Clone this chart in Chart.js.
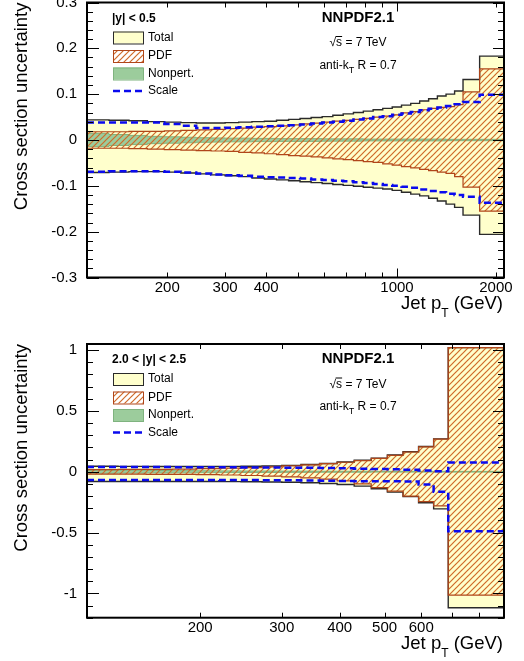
<!DOCTYPE html>
<html><head><meta charset="utf-8">
<script src="https://cdn.jsdelivr.net/npm/chart.js@4.4.1/dist/chart.umd.min.js"></script>
<style>
html,body{margin:0;padding:0;background:#fff;}
#wrap{position:relative;width:524px;height:661px;overflow:hidden;background:#fff;}
canvas{position:absolute;left:0;}
#c1{top:0;} #c2{top:330px;}
</style></head><body>
<div id="wrap"><canvas id="c1" width="524" height="330"></canvas><canvas id="c2" width="524" height="331"></canvas></div>
<script>
// ---------------- DATA: |y| < 0.5 ----------------
const edgesCentral = [114,133,153,174,196,220,245,272,300,330,362,395,430,468,507,548,592,638,686,737,790,846,905,967,1032,1101,1172,1248,1327,1410,1497,1588,1784,2116];
const totalUpCentral   = [0.044,0.043,0.042,0.040,0.039,0.038,0.037,0.037,0.038,0.039,0.040,0.041,0.043,0.045,0.047,0.049,0.051,0.054,0.057,0.060,0.063,0.066,0.069,0.072,0.076,0.080,0.085,0.090,0.096,0.100,0.107,0.132,0.183];
const totalDownCentral = [-0.071,-0.070,-0.069,-0.069,-0.070,-0.072,-0.074,-0.076,-0.078,-0.080,-0.083,-0.085,-0.087,-0.089,-0.091,-0.093,-0.095,-0.097,-0.099,-0.101,-0.103,-0.105,-0.107,-0.110,-0.114,-0.118,-0.122,-0.127,-0.133,-0.140,-0.147,-0.164,-0.206];
const pdfUpCentral     = [0.018,0.018,0.019,0.019,0.020,0.021,0.022,0.023,0.025,0.026,0.028,0.029,0.031,0.033,0.035,0.037,0.039,0.041,0.043,0.045,0.047,0.050,0.052,0.055,0.059,0.062,0.066,0.069,0.071,0.073,0.077,0.105,0.155];
const pdfDownCentral   = [-0.018,-0.018,-0.019,-0.020,-0.021,-0.022,-0.023,-0.024,-0.025,-0.027,-0.028,-0.030,-0.032,-0.034,-0.035,-0.037,-0.039,-0.041,-0.043,-0.045,-0.047,-0.049,-0.052,-0.055,-0.058,-0.061,-0.064,-0.067,-0.070,-0.073,-0.080,-0.103,-0.155];
const npUpCentral      = [0.0145,0.012,0.010,0.008,0.007,0.006,0.005,0.0045,0.004,0.004,0.0035,0.0035,0.003,0.003,0.003,0.003,0.0025,0.0025,0.0025,0.0025,0.002,0.002,0.002,0.002,0.002,0.002,0.002,0.002,0.002,0.0015,0.0015,0.0015,0.0015];
const npDownCentral    = [-0.0145,-0.012,-0.010,-0.008,-0.007,-0.006,-0.005,-0.0045,-0.004,-0.004,-0.0035,-0.0035,-0.003,-0.003,-0.003,-0.003,-0.0025,-0.0025,-0.0025,-0.0025,-0.002,-0.002,-0.002,-0.002,-0.002,-0.002,-0.002,-0.002,-0.002,-0.0015,-0.0015,-0.0015,-0.0015];
const scaleUpCentral   = [0.038,0.038,0.038,0.038,0.035,0.031,0.026,0.026,0.027,0.028,0.029,0.030,0.031,0.032,0.034,0.036,0.038,0.040,0.042,0.045,0.047,0.050,0.052,0.055,0.058,0.061,0.065,0.068,0.071,0.074,0.078,0.083,0.099];
const scaleDownCentral = [-0.069,-0.068,-0.068,-0.068,-0.069,-0.071,-0.073,-0.075,-0.077,-0.078,-0.080,-0.081,-0.082,-0.083,-0.084,-0.086,-0.087,-0.089,-0.090,-0.092,-0.094,-0.096,-0.098,-0.100,-0.102,-0.104,-0.108,-0.111,-0.114,-0.117,-0.120,-0.124,-0.137];
const xTickLabelsCentral = [200,300,400,1000,2000];
const yTickLabelsCentral = [-0.3,-0.2,-0.1,0,0.1,0.2,0.3];

// ---------------- DATA: 2.0 < |y| < 2.5 ----------------
const edgesForward = [114,133,153,174,196,220,245,272,300,330,362,395,430,468,507,548,592,638,686,905];
const totalUpForward   = [0.045,0.044,0.043,0.043,0.043,0.044,0.045,0.047,0.052,0.059,0.068,0.080,0.094,0.112,0.137,0.164,0.207,0.270,1.02];
const totalDownForward = [-0.080,-0.080,-0.080,-0.080,-0.080,-0.081,-0.082,-0.084,-0.087,-0.091,-0.097,-0.105,-0.118,-0.140,-0.168,-0.205,-0.255,-0.305,-1.118];
const pdfUpForward     = [0.018,0.019,0.020,0.022,0.025,0.029,0.034,0.040,0.048,0.056,0.066,0.078,0.092,0.110,0.135,0.162,0.205,0.268,1.02];
const pdfDownForward   = [-0.020,-0.020,-0.021,-0.022,-0.024,-0.027,-0.031,-0.036,-0.042,-0.050,-0.060,-0.075,-0.100,-0.130,-0.160,-0.200,-0.245,-0.280,-1.014];
const npUpForward      = [0.012,0.011,0.010,0.009,0.008,0.007,0.006,0.006,0.005,0.005,0.004,0.004,0.004,0.003,0.003,0.003,0.003,0.003,0.003];
const npDownForward    = [-0.012,-0.011,-0.010,-0.009,-0.008,-0.007,-0.006,-0.006,-0.005,-0.005,-0.004,-0.004,-0.004,-0.003,-0.003,-0.003,-0.003,-0.003,-0.003];
const scaleUpForward   = [0.038,0.038,0.038,0.037,0.036,0.036,0.035,0.034,0.033,0.032,0.030,0.028,0.024,0.022,0.020,0.016,0.010,0.003,0.076];
const scaleDownForward = [-0.068,-0.068,-0.068,-0.068,-0.068,-0.069,-0.069,-0.070,-0.070,-0.072,-0.074,-0.076,-0.078,-0.078,-0.078,-0.080,-0.105,-0.165,-0.489];
const xTickLabelsForward = [200,300,400,500,600];
const yTickLabelsForward = [-1,-0.5,0,0.5,1];

// ---------------- STYLE ----------------
const FONT = "'Liberation Sans', Arial, Helvetica, sans-serif";
const C_TOTAL = '#ffffcc', C_TOTAL_LINE = '#2a2a2a';
const C_PDF_LINE = '#b0461a', C_HATCH = '#cf6a28';
const C_NP = '#9ccc9c', C_NP_LINE = '#7fb37f';
const C_SCALE = '#0a0aee';

function makeHatch(ctx) {
  const t = document.createElement('canvas'); t.width = 6; t.height = 6;
  const g = t.getContext('2d');
  g.strokeStyle = C_HATCH; g.lineWidth = 1.2;
  g.beginPath(); g.moveTo(-1, 7); g.lineTo(7, -1); g.stroke();
  g.beginPath(); g.moveTo(-1, 1); g.lineTo(1, -1); g.stroke();
  g.beginPath(); g.moveTo(5, 7); g.lineTo(7, 5); g.stroke();
  return ctx.createPattern(t, 'repeat');
}

function stepData(edges, vals) {
  return edges.map((e, i) => ({ x: e, y: vals[Math.min(i, vals.length - 1)] }));
}

const decoPlugin = {
  id: 'deco',
  afterDatasetsDraw(chart, args, o) {
    const { ctx, chartArea: a } = chart;
    const xs = chart.scales.x, ys = chart.scales.y;
    ctx.save();
    ctx.strokeStyle = '#000'; ctx.fillStyle = '#000';
    ctx.lineWidth = 1;
    for (let d = Math.pow(10, Math.floor(Math.log10(xs.min))); d <= xs.max; d *= 10) {
      for (let m = 1; m <= 9; m++) {
        const v = m * d; if (v < xs.min || v > xs.max) continue;
        const px = Math.round(xs.getPixelForValue(v)) + 0.5;
        const L = m === 1 ? 9 : 5;
        ctx.beginPath();
        ctx.moveTo(px, a.bottom); ctx.lineTo(px, a.bottom - L);
        ctx.moveTo(px, a.top); ctx.lineTo(px, a.top + L);
        ctx.stroke();
      }
    }
    const n = Math.floor((ys.max - ys.min) / o.yMinorStep + 1e-6);
    for (let i = 0; i <= n; i++) {
      const v = ys.min + i * o.yMinorStep;
      const r = v / o.yMajorStep;
      const major = Math.abs(r - Math.round(r)) < 1e-6;
      const L = major ? 12 : 6;
      const py = Math.round(ys.getPixelForValue(v)) + 0.5;
      ctx.beginPath();
      ctx.moveTo(a.left, py); ctx.lineTo(a.left + L, py);
      ctx.moveTo(a.right, py); ctx.lineTo(a.right - (major ? 11 : 6), py);
      ctx.stroke();
    }
    ctx.lineWidth = 2;
    ctx.strokeRect(a.left, a.top, a.right - a.left, a.bottom - a.top);

    ctx.textBaseline = 'alphabetic'; ctx.textAlign = 'left';
    const big = `18.5px ${FONT}`, sub = `12px ${FONT}`;
    ctx.font = big; const w1 = ctx.measureText('Jet p').width; const w3 = ctx.measureText(' (GeV)').width;
    ctx.font = sub; const w2 = ctx.measureText('T').width;
    let tx = a.right - 1 - (w1 + w2 + w3); const by = a.bottom + 31;
    ctx.font = big; ctx.fillText('Jet p', tx, by);
    ctx.font = sub; ctx.fillText('T', tx + w1, by + 8);
    ctx.font = big; ctx.fillText(' (GeV)', tx + w1 + w2, by);

    const lx = a.left + 26, sw = 30, sh = 12, textX = a.left + 61;
    ctx.font = `bold 12px ${FONT}`; ctx.textBaseline = 'middle';
    ctx.fillText(o.label, a.left + 25, a.top + 16);
    ctx.font = `12px ${FONT}`;
    const rows = [a.top + 35, a.top + 53.5, a.top + 71, a.top + 88.5];
    ctx.fillStyle = C_TOTAL; ctx.fillRect(lx, rows[0] - sh / 2, sw, sh);
    ctx.strokeStyle = C_TOTAL_LINE; ctx.lineWidth = 1; ctx.strokeRect(lx + 0.5, rows[0] - sh / 2 + 0.5, sw, sh);
    ctx.fillStyle = o.hatch; ctx.fillRect(lx, rows[1] - sh / 2, sw, sh);
    ctx.strokeStyle = C_PDF_LINE; ctx.strokeRect(lx + 0.5, rows[1] - sh / 2 + 0.5, sw, sh);
    ctx.fillStyle = C_NP; ctx.fillRect(lx, rows[2] - sh / 2, sw, sh);
    ctx.strokeStyle = C_NP_LINE; ctx.strokeRect(lx + 0.5, rows[2] - sh / 2 + 0.5, sw, sh);
    ctx.strokeStyle = C_SCALE; ctx.lineWidth = 2.5; ctx.setLineDash([7, 4]);
    ctx.beginPath(); ctx.moveTo(lx, rows[3]); ctx.lineTo(lx + sw, rows[3]); ctx.stroke();
    ctx.setLineDash([]);
    ctx.fillStyle = '#000';
    ctx.fillText('Total', textX, rows[0]);
    ctx.fillText('PDF', textX, rows[1]);
    ctx.fillText('Nonpert.', textX, rows[2]);
    ctx.fillText('Scale', textX, rows[3]);

    const cx = a.left + 271;
    ctx.textAlign = 'center';
    ctx.font = `bold 15px ${FONT}`;
    ctx.fillText('NNPDF2.1', cx, a.top + 15);
    ctx.textAlign = 'left'; ctx.textBaseline = 'alphabetic';
    ctx.font = `12px ${FONT}`;
    const sq = '√', rest = 's = 7 TeV';
    const ws = ctx.measureText(sq).width, wr = ctx.measureText(rest).width, wsS = ctx.measureText('s').width;
    let sx = cx - (ws + wr) / 2; const sy = a.top + 43.5;
    ctx.fillText(sq, sx, sy); ctx.fillText(rest, sx + ws, sy);
    ctx.strokeStyle = '#000'; ctx.lineWidth = 1;
    ctx.beginPath(); ctx.moveTo(sx + ws - 0.5, sy - 9.5); ctx.lineTo(sx + ws + wsS, sy - 9.5); ctx.stroke();
    const p1 = 'anti-k', p3 = ' R = 0.7';
    const a1 = ctx.measureText(p1).width, a3 = ctx.measureText(p3).width;
    ctx.font = `9px ${FONT}`; const a2 = ctx.measureText('T').width;
    let ax = cx - (a1 + a2 + a3) / 2; const ay = a.top + 66;
    ctx.font = `12px ${FONT}`; ctx.fillText(p1, ax, ay);
    ctx.font = `9px ${FONT}`; ctx.fillText('T', ax + a1, ay + 4);
    ctx.font = `12px ${FONT}`; ctx.fillText(p3, ax + a1 + a2, ay);
    ctx.restore();
  }
};

function makeChart(id, cfg) {
  const canvas = document.getElementById(id);
  const ctx = canvas.getContext('2d');
  const hatch = makeHatch(ctx);
  const mk = (label, vals, extra) => Object.assign({
    label, data: stepData(cfg.edges, vals), stepped: 'before', pointRadius: 0, pointHoverRadius: 0,
    borderWidth: 1, fill: false, tension: 0
  }, extra);
  const datasets = [
    mk('Total up', cfg.totalUp, { borderColor: C_TOTAL_LINE, backgroundColor: C_TOTAL, fill: '+1', order: 10, borderWidth: 1.4 }),
    mk('Total down', cfg.totalDown, { borderColor: C_TOTAL_LINE, order: 9, borderWidth: 1.4 }),
    mk('Nonpert up', cfg.npUp, { borderColor: C_NP_LINE, backgroundColor: C_NP, fill: '+1', order: 8 }),
    mk('Nonpert down', cfg.npDown, { borderColor: C_NP_LINE, order: 7 }),
    mk('PDF up', cfg.pdfUp, { borderColor: C_PDF_LINE, backgroundColor: hatch, fill: '+1', order: 6, borderWidth: 1.2 }),
    mk('PDF down', cfg.pdfDown, { borderColor: C_PDF_LINE, order: 5, borderWidth: 1.2 }),
    mk('Scale up', cfg.scaleUp, { borderColor: C_SCALE, borderDash: [7, 4], order: 2, borderWidth: 2.5 }),
    mk('Scale down', cfg.scaleDown, { borderColor: C_SCALE, borderDash: [7, 4], order: 1, borderWidth: 2.5 })
  ];
  return new Chart(ctx, {
    type: 'line',
    data: { datasets },
    options: {
      responsive: false, animation: false, devicePixelRatio: 1, events: [],
      layout: { padding: { left: 0, right: 20, top: cfg.padTop, bottom: 0 } },
      plugins: {
        legend: { display: false }, tooltip: { enabled: false },
        deco: { label: cfg.label, hatch, yMinorStep: cfg.yMinorStep, yMajorStep: cfg.yMajorStep }
      },
      scales: {
        x: {
          type: 'logarithmic', min: cfg.edges[0], max: cfg.edges[cfg.edges.length - 1],
          grid: { display: false, drawTicks: false, tickLength: 0 }, border: { display: false },
          ticks: { autoSkip: false, maxRotation: 0, minRotation: 0, padding: 1, color: '#000',
                   font: { size: 15, family: FONT }, callback: (v) => String(v) },
          afterBuildTicks: (s) => { s.ticks = cfg.xLabels.map(v => ({ value: v })); },
          afterFit: (s) => { s.height = cfg.xAxisHeight; s.paddingLeft = 0; s.paddingRight = 0; }
        },
        y: {
          type: 'linear', min: cfg.yMin, max: cfg.yMax,
          grid: { display: false, drawTicks: false, tickLength: 0 }, border: { display: false },
          ticks: { padding: 10, color: '#000', font: { size: 15, family: FONT }, autoSkip: false,
                   callback: (v) => String(v) },
          afterBuildTicks: (s) => { s.ticks = cfg.yLabels.map(v => ({ value: v })); },
          title: { display: true, text: 'Cross section uncertainty', align: 'end', color: '#000',
                   font: { size: 18.5, family: FONT }, padding: { top: 11, bottom: 0 } },
          afterFit: (s) => { s.width = 87; s.paddingTop = 0; s.paddingBottom = 0; }
        }
      }
    },
    plugins: [decoPlugin]
  });
}

makeChart('c1', {
  edges: edgesCentral, totalUp: totalUpCentral, totalDown: totalDownCentral,
  pdfUp: pdfUpCentral, pdfDown: pdfDownCentral, npUp: npUpCentral, npDown: npDownCentral,
  scaleUp: scaleUpCentral, scaleDown: scaleDownCentral,
  xLabels: xTickLabelsCentral, yLabels: yTickLabelsCentral,
  yMin: -0.3, yMax: 0.3, yMinorStep: 0.02, yMajorStep: 0.1,
  padTop: 2.5, xAxisHeight: 52.5, label: '|y| < 0.5'
});
makeChart('c2', {
  edges: edgesForward, totalUp: totalUpForward, totalDown: totalDownForward,
  pdfUp: pdfUpForward, pdfDown: pdfDownForward, npUp: npUpForward, npDown: npDownForward,
  scaleUp: scaleUpForward, scaleDown: scaleDownForward,
  xLabels: xTickLabelsForward, yLabels: yTickLabelsForward,
  yMin: -1.2, yMax: 1.05, yMinorStep: 0.1, yMajorStep: 0.5,
  padTop: 14, xAxisHeight: 43.3, label: '2.0 < |y| < 2.5'
});
</script>
</body></html>
